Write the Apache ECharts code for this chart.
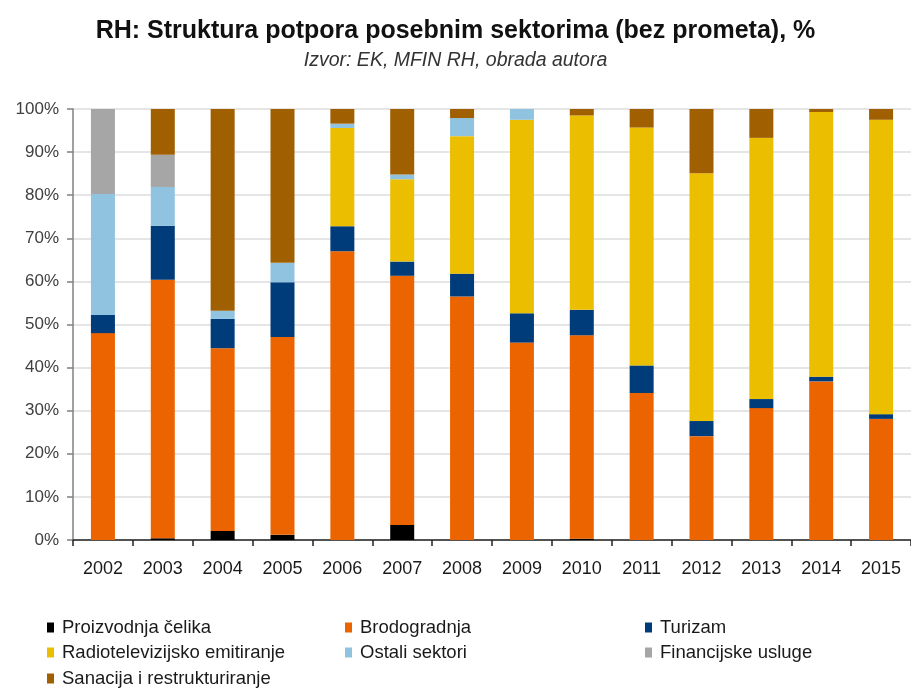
<!DOCTYPE html>
<html>
<head>
<meta charset="utf-8">
<script src="https://cdn.jsdelivr.net/npm/echarts@6/dist/echarts.min.js"></script>
<style>
html,body{margin:0;padding:0;background:#fff;}
#main{width:911px;height:691px;}
</style>
</head>
<body>
<div id="main"></div>
<script>
var years = ['2002','2003','2004','2005','2006','2007','2008','2009','2010','2011','2012','2013','2014','2015'];
// udjeli u %, procijenjeno sa slike
var celik    = [0, 0.4, 2.1, 1.2, 0, 3.5, 0, 0, 0.3, 0, 0, 0, 0, 0];
var brodo    = [48.0, 60.0, 42.4, 45.9, 67.0, 57.8, 56.5, 45.8, 47.2, 34.1, 24.1, 30.6, 36.8, 28.1];
var turizam  = [4.2, 12.5, 6.8, 12.7, 5.8, 3.3, 5.3, 6.8, 5.9, 6.4, 3.5, 2.1, 1.1, 1.1];
var radio    = [0, 0, 0, 0, 22.8, 19.1, 31.9, 44.9, 45.1, 55.2, 57.5, 60.6, 61.4, 68.3];
var ostali   = [28.1, 9.0, 1.9, 4.5, 1.0, 1.1, 4.2, 2.5, 0, 0, 0, 0, 0, 0];
var financ   = [19.7, 7.5, 0, 0, 0, 0, 0, 0, 0, 0, 0, 0, 0, 0];
var sanacija = [0, 10.6, 46.8, 35.7, 3.4, 15.2, 2.1, 0, 1.5, 4.3, 14.9, 6.7, 0.7, 2.5];

var names = ['Proizvodnja čelika','Brodogradnja','Turizam','Radiotelevizijsko emitiranje','Ostali sektori','Financijske usluge','Sanacija i restrukturiranje'];
var colors = ['#000000','#EB6400','#003B7A','#EBBE00','#8FC3E0','#A6A6A6','#A05F00'];
var values = [celik, brodo, turizam, radio, ostali, financ, sanacija];

var myChart = echarts.init(document.getElementById('main'));

var series = [];
for (var i = 0; i < names.length; i++) {
	series.push({
		name: names[i],
		type: 'bar',
		stack: 'ukupno',
		barWidth: 24,
		itemStyle: {color: colors[i]},
		data: values[i]
	});
}

// legenda u tri stupca
var legPos = [
	[47, 618], [345, 618], [645, 618],
	[47, 643], [345, 643], [645, 643],
	[47, 669]
];
var legends = [];
for (var j = 0; j < names.length; j++) {
	legends.push({
		left: legPos[j][0],
		top: legPos[j][1],
		padding: 0,
		icon: 'rect',
		itemWidth: 7,
		itemHeight: 10,
		selectedMode: false,
		textStyle: {fontFamily: 'Liberation Sans', fontSize: 18.5, color: '#1a1a1a', padding: [0, 0, 0, 3]},
		data: [names[j]]
	});
}

var option = {
	animation: false,
	backgroundColor: '#fff',
	title: {
		text: 'RH: Struktura potpora posebnim sektorima (bez prometa), %',
		subtext: 'Izvor: EK, MFIN RH, obrada autora',
		left: 'center',
		top: 14,
		itemGap: 7,
		textStyle: {fontFamily: 'Liberation Sans', fontSize: 25, fontWeight: 'bold', color: '#111'},
		subtextStyle: {fontFamily: 'Liberation Sans', fontSize: 19.5, fontStyle: 'italic', color: '#333'}
	},
	legend: legends,
	grid: {
		left: 73,
		right: -4,
		top: 109,
		bottom: 151,
		containLabel: false
	},
	xAxis: {
		type: 'category',
		data: years,
		axisLine: {lineStyle: {color: '#222', width: 1.5}},
		axisTick: {show: true, length: 6, lineStyle: {color: '#222', width: 1.5}},
		axisLabel: {fontFamily: 'Liberation Sans', fontSize: 18, color: '#1a1a1a', margin: 20}
	},
	yAxis: {
		type: 'value',
		min: 0,
		max: 100,
		interval: 10,
		axisLine: {show: true, lineStyle: {color: '#808080', width: 1.5}},
		axisTick: {show: true, length: 6, lineStyle: {color: '#808080', width: 1.5}},
		splitLine: {lineStyle: {color: '#DCDCDC', width: 1.5}},
		axisLabel: {fontFamily: 'Liberation Sans', fontSize: 17, color: '#404040', margin: 14, formatter: '{value}%'}
	},
	series: series
};
myChart.setOption(option);
</script>
</body>
</html>
